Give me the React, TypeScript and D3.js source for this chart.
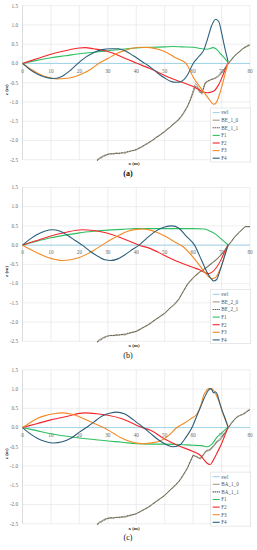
import * as d3 from 'd3';

// ---------- data ----------

// panel (a)
const aF1x = [0, 5, 10, 15, 20, 25, 30, 35, 40, 45, 50, 53, 56, 60, 63, 65, 67, 68, 70, 72.3];
const aF1z = [0, 0.08, 0.15, 0.2, 0.25, 0.29, 0.33, 0.37, 0.4, 0.42, 0.43, 0.44, 0.43, 0.42, 0.38, 0.37, 0.41, 0.38, 0.22, 0.03];
const aF2x = [0, 5, 10, 15, 20, 22, 25, 30, 35, 40, 45, 50, 55, 60, 63, 65, 67, 69, 70.5, 72.3];
const aF2z = [0, 0.12, 0.24, 0.33, 0.4, 0.41, 0.38, 0.31, 0.17, 0.01, -0.14, -0.31, -0.46, -0.6, -0.72, -0.76, -0.73, -0.55, -0.3, 0.03];
const aF3x = [0, 3, 6, 9, 12, 15, 18, 21, 24, 27, 30, 33, 36, 39, 42, 45, 48, 51, 54, 57.5, 60, 62, 64, 65.5, 66.5, 67.3, 68.2, 69.5, 70.8, 72.3];
const aF3z = [0, -0.15, -0.28, -0.36, -0.4, -0.39, -0.35, -0.27, -0.15, 0.01, 0.13, 0.25, 0.34, 0.4, 0.42, 0.41, 0.36, 0.27, 0.14, 0, -0.35, -0.57, -0.77, -0.92, -1.02, -1.06, -1.01, -0.75, -0.4, 0.03];
const aF4x = [0, 2.5, 5, 8, 11, 14, 17, 19.5, 22, 25, 28, 31, 33.7, 36, 39, 42, 44.3, 47, 50, 52, 54, 56, 58, 60, 62, 63.7, 65, 66.5, 67.9, 69, 70, 71, 72.3];
const aF4z = [0, -0.15, -0.27, -0.36, -0.39, -0.33, -0.17, 0, 0.15, 0.28, 0.36, 0.38, 0.38, 0.33, 0.2, 0.05, -0.06, -0.22, -0.38, -0.46, -0.49, -0.46, -0.3, 0, 0.18, 0.34, 0.62, 0.98, 1.15, 1.09, 0.8, 0.45, 0.05];
const aB0x = [26.2, 27, 28, 29, 30, 31, 32, 33, 34, 35, 36, 37, 38, 39, 40, 41, 42, 43, 44, 45, 46, 47, 48, 49, 50, 51, 52, 53, 54, 55, 56, 57, 58, 59, 60, 60.8, 61.5, 62.3, 63.1, 64.2, 65, 66, 67, 67.7, 69, 70, 71, 72.4, 73.5, 74.5, 75.5, 76.5, 77.5, 78.5, 79.5, 80];
const aB0z = [-2.52, -2.46, -2.42, -2.38, -2.36, -2.34, -2.35, -2.33, -2.34, -2.32, -2.33, -2.3, -2.28, -2.26, -2.24, -2.2, -2.17, -2.12, -2.08, -2.03, -1.98, -1.92, -1.88, -1.82, -1.77, -1.7, -1.65, -1.58, -1.52, -1.45, -1.37, -1.25, -1.12, -0.95, -0.76, -0.6, -0.62, -0.75, -0.76, -0.52, -0.47, -0.43, -0.4, -0.39, -0.33, -0.24, -0.15, 0, 0.1, 0.19, 0.26, 0.32, 0.39, 0.43, 0.48, 0.47];
const aB1x = [26.2, 30, 35, 40, 45, 50, 55, 58, 59, 60, 60.8, 61.5, 62.3, 63.1, 64.2, 65, 66, 67.7, 70, 72.4, 74.5, 76.5, 78.5, 80];
const aB1z = [-2.52, -2.36, -2.32, -2.24, -2.03, -1.77, -1.45, -1.12, -0.95, -0.7, -0.52, -0.58, -0.68, -0.8, -0.5, -0.46, -0.43, -0.38, -0.23, 0, 0.19, 0.32, 0.43, 0.47];

// panel (b)
const bF1x = [0, 5, 10, 15, 20, 25, 30, 35, 40, 45, 50, 55, 60, 64, 66, 68, 70, 72.3];
const bF1z = [0, 0.1, 0.19, 0.26, 0.32, 0.36, 0.39, 0.41, 0.43, 0.43, 0.43, 0.43, 0.43, 0.42, 0.36, 0.28, 0.15, 0.01];
const bF2x = [0, 5, 10, 15, 21, 25, 30, 35, 41, 45, 50, 55, 60, 62.3, 65.3, 68.2, 70, 71.2, 72.3];
const bF2z = [0, 0.12, 0.24, 0.33, 0.4, 0.38, 0.31, 0.18, 0, -0.09, -0.27, -0.44, -0.58, -0.64, -0.74, -0.58, -0.35, -0.15, 0.01];
const bF3x = [0, 3, 6, 9, 12, 14, 17, 20, 23, 26, 28, 31, 34, 37, 40, 42, 45, 48, 51, 54, 56.5, 59.6, 62, 64, 65.5, 66.6, 68, 69.5, 71, 72.3];
const bF3z = [0, -0.12, -0.23, -0.32, -0.38, -0.4, -0.38, -0.32, -0.22, -0.09, 0, 0.14, 0.26, 0.36, 0.41, 0.42, 0.39, 0.31, 0.2, 0.06, -0.04, -0.28, -0.5, -0.7, -0.82, -0.87, -0.83, -0.62, -0.3, 0.01];
const bF4x = [0, 2.5, 5, 8, 10.5, 13, 16, 18.5, 21, 24, 27, 29, 31, 33, 36, 38.5, 41, 44, 47, 50, 52.5, 55, 57.5, 60.5, 63, 65, 66.2, 67.2, 68.2, 69.5, 71, 72.3];
const bF4z = [0, 0.15, 0.27, 0.37, 0.4, 0.37, 0.25, 0.12, 0, -0.17, -0.31, -0.38, -0.4, -0.37, -0.25, -0.12, 0, 0.2, 0.37, 0.47, 0.5, 0.44, 0.24, 0, -0.4, -0.72, -0.86, -0.93, -0.9, -0.65, -0.3, 0.01];
const bB0x = [26.2, 27, 28, 29, 30, 31, 32, 33, 34, 35, 36, 37, 38, 39, 40, 41, 42, 43, 44, 45, 46, 47, 48, 49, 50, 51, 52, 53, 54, 55, 56, 57, 58, 59, 60, 61, 62.3, 63.5, 65, 66.5, 68.2, 69.5, 71, 72.4, 73.5, 74.5, 76, 77, 78.3, 79.2, 80];
const bB0z = [-2.52, -2.46, -2.42, -2.38, -2.36, -2.34, -2.35, -2.33, -2.34, -2.32, -2.33, -2.3, -2.28, -2.26, -2.24, -2.2, -2.16, -2.12, -2.08, -2.03, -1.97, -1.92, -1.87, -1.82, -1.77, -1.7, -1.63, -1.57, -1.5, -1.4, -1.27, -1.14, -1.02, -0.93, -0.85, -0.78, -0.7, -0.64, -0.56, -0.47, -0.37, -0.28, -0.15, 0, 0.1, 0.2, 0.32, 0.39, 0.48, 0.48, 0.48];
const bB1x = [26.2, 30, 35, 40, 45, 50, 55, 58, 60, 62.3, 65, 68.2, 71, 72.4, 74.5, 76, 78.3, 80];
const bB1z = [-2.52, -2.36, -2.32, -2.24, -2.03, -1.77, -1.4, -1.02, -0.85, -0.7, -0.57, -0.38, -0.15, 0, 0.2, 0.32, 0.48, 0.48];

// panel (c)
const cF1x = [0, 5, 10, 15, 20, 25, 30, 35, 40, 45, 50, 55, 60, 63, 64.9, 66.6, 68.4, 70.3, 72.3];
const cF1z = [0, -0.08, -0.16, -0.22, -0.27, -0.31, -0.35, -0.38, -0.42, -0.43, -0.43, -0.44, -0.46, -0.47, -0.5, -0.43, -0.25, -0.12, 0.01];
const cF2x = [0, 5, 10, 15, 22, 26, 30, 35, 42, 45, 50, 55, 60, 62.5, 64, 65.2, 66, 67, 68.4, 69.5, 70.7, 72.3];
const cF2z = [0, 0.1, 0.2, 0.28, 0.38, 0.36, 0.32, 0.23, 0, -0.07, -0.3, -0.48, -0.62, -0.72, -0.85, -0.94, -0.96, -0.86, -0.66, -0.5, -0.29, 0.01];
const cF3x = [0, 2.5, 5, 8, 11, 13.8, 17, 20, 23, 27.3, 28.5, 32, 35, 39, 42.6, 45, 48.4, 51, 54.3, 57, 59, 61.4, 62.8, 63.7, 64.7, 65.4, 66.6, 67.5, 68.4, 69.3, 70.1, 71.2, 72.3];
const cF3z = [0, 0.12, 0.23, 0.31, 0.36, 0.38, 0.35, 0.28, 0.18, 0.04, 0, -0.15, -0.28, -0.39, -0.42, -0.4, -0.35, -0.23, 0, 0.12, 0.22, 0.36, 0.6, 0.84, 0.96, 1.01, 1.01, 0.93, 0.8, 0.64, 0.45, 0.22, 0.01];
const cF4x = [0, 2.5, 5, 8, 11, 14, 17, 20, 22.5, 25, 28, 31, 33, 36, 39, 42.5, 45, 48, 51, 53.1, 55.5, 57.5, 59.6, 61, 62.6, 64, 65.2, 66, 66.6, 67.2, 67.8, 68.5, 69.5, 70.4, 71.3, 72.3];
const cF4z = [0, -0.15, -0.27, -0.36, -0.4, -0.37, -0.28, -0.12, 0, 0.14, 0.3, 0.38, 0.4, 0.35, 0.2, 0, -0.15, -0.33, -0.46, -0.5, -0.44, -0.25, 0, 0.25, 0.53, 0.78, 0.95, 1.01, 0.98, 0.9, 0.93, 0.86, 0.6, 0.4, 0.23, 0.01];
const cB0x = [26.2, 27, 28, 29, 30, 31, 32, 33, 34, 35, 36, 37, 38, 39, 40, 41, 42, 43, 44, 45, 46, 47, 48, 49, 50, 51, 52, 53, 54, 55, 56, 57, 58, 59, 60, 61, 62.5, 63.5, 64.5, 66, 67.2, 68.4, 69.5, 71, 72.4, 73.5, 74.8, 75.6, 76.6, 77.5, 78.5, 79.3, 80];
const cB0z = [-2.52, -2.46, -2.42, -2.38, -2.36, -2.34, -2.35, -2.33, -2.34, -2.32, -2.33, -2.3, -2.28, -2.26, -2.24, -2.2, -2.16, -2.12, -2.08, -2.03, -1.97, -1.92, -1.87, -1.82, -1.76, -1.69, -1.62, -1.55, -1.48, -1.4, -1.3, -1.18, -1.05, -0.88, -0.72, -0.76, -0.81, -0.72, -0.62, -0.58, -0.48, -0.37, -0.32, -0.16, 0, 0.12, 0.23, 0.29, 0.32, 0.34, 0.39, 0.44, 0.47];
const cB1x = [26.2, 30, 35, 40, 45, 50, 55, 58, 60, 61, 62.5, 64.5, 66, 68.4, 71, 72.4, 74.8, 76.6, 78.5, 80];
const cB1z = [-2.52, -2.36, -2.32, -2.24, -2.03, -1.76, -1.4, -1.05, -0.72, -0.74, -0.8, -0.6, -0.56, -0.36, -0.16, 0, 0.23, 0.32, 0.39, 0.47];

const xTicks = [0, 10, 20, 30, 40, 50, 60, 70, 80];
const zTicks = [1.5, 1.0, 0.5, 0.0, -0.5, -1.0, -1.5, -2.0, -2.5];
const seriesNames = ['swl', 'F1', 'F2', 'F3', 'F4'];
const panelLetters = ['(a)', '(b)', '(c)'];
const bedNames = [['BE_1_0', 'BE_1_1'], ['BE_2_0', 'BE_2_1'], ['BA_1_0', 'BA_1_1']];

// ---------- styling ----------
const colors: Record<string, string> = {
  swl: '#9fd4e8',
  bed0: '#a39d86',
  bed1: '#222222',
  F1: '#2fbf62',
  F2: '#f5262a',
  F3: '#f48a24',
  F4: '#2c5f7c',
};

const W = 257;
const H = 550;
const left = 22.5;
const right = 250;
const panelTops = [5.7, 187.4, 369.8];
const plotH = 154;
const font = '"Liberation Serif", "DejaVu Serif", serif';

type Pts = { x: number; z: number }[];
const zip = (xs: number[], zs: number[]): Pts => xs.map((x, i) => ({ x, z: zs[i] }));

const panels = [
  { F: [zip(aF1x, aF1z), zip(aF2x, aF2z), zip(aF3x, aF3z), zip(aF4x, aF4z)], B0: zip(aB0x, aB0z), B1: zip(aB1x, aB1z) },
  { F: [zip(bF1x, bF1z), zip(bF2x, bF2z), zip(bF3x, bF3z), zip(bF4x, bF4z)], B0: zip(bB0x, bB0z), B1: zip(bB1x, bB1z) },
  { F: [zip(cF1x, cF1z), zip(cF2x, cF2z), zip(cF3x, cF3z), zip(cF4x, cF4z)], B0: zip(cB0x, cB0z), B1: zip(cB1x, cB1z) },
];

function Panel({ idx }: { idx: number }) {
  const top = panelTops[idx];
  const p = panels[idx];
  const x = d3.scaleLinear().domain([0, 80]).range([left, right]);
  const y = d3.scaleLinear().domain([1.5, -2.5]).range([top, top + plotH]);
  const smooth = d3.line<{ x: number; z: number }>().x(d => x(d.x)).y(d => y(d.z)).curve(d3.curveMonotoneX);
  const rough = d3.line<{ x: number; z: number }>().x(d => x(d.x)).y(d => y(d.z));
  const fCols = [colors.F1, colors.F2, colors.F3, colors.F4];

  // legend box, lower right
  const lgX = 210.7;
  const lgY = top + 102.3;
  const lgW = 40;
  const lgH = 54;
  const step = 7.6;
  const entries = [
    { name: seriesNames[0], color: colors.swl, dash: '' },
    { name: bedNames[idx][0], color: colors.bed0, dash: '' },
    { name: bedNames[idx][1], color: colors.bed1, dash: '1,1' },
    { name: seriesNames[1], color: colors.F1, dash: '' },
    { name: seriesNames[2], color: colors.F2, dash: '' },
    { name: seriesNames[3], color: colors.F3, dash: '' },
    { name: seriesNames[4], color: colors.F4, dash: '' },
  ];

  return (
    <g>
      {/* grid */}
      {xTicks.map(t => (
        <line key={'gx' + t} x1={x(t)} x2={x(t)} y1={y(1.5)} y2={y(-2.5)} stroke="#e3e3e3" strokeWidth={0.6} />
      ))}
      {zTicks.map(t => (
        <line key={'gy' + t} x1={x(0)} x2={x(80)} y1={y(t)} y2={y(t)} stroke="#e3e3e3" strokeWidth={0.6} />
      ))}
      <line x1={x(0)} x2={x(0)} y1={y(1.5)} y2={y(-2.5)} stroke="#cfcfcf" strokeWidth={0.6} />
      {/* tick labels */}
      {zTicks.map(t => (
        <text key={'ty' + t} x={18} y={y(t)} dy="0.35em" textAnchor="end" fontSize={5.2} fill="#6b6b6b" fontFamily={font}>
          {t.toFixed(1)}
        </text>
      ))}
      {xTicks.map(t => (
        <text key={'tx' + t} x={x(t)} y={y(0) + 7.3} dy="0.35em" textAnchor="middle" fontSize={5.2} fill="#6b6b6b" fontFamily={font}>
          {t}
        </text>
      ))}
      {/* still water level */}
      <line x1={x(0)} x2={x(80)} y1={y(0)} y2={y(0)} stroke={colors.swl} strokeWidth={1} />
      {/* bed profiles */}
      <path d={rough(p.B0) ?? ''} fill="none" stroke={colors.bed0} strokeWidth={1.2} />
      <path d={rough(p.B1) ?? ''} fill="none" stroke={colors.bed1} strokeWidth={0.7} strokeDasharray="0.8,0.8" />
      {/* modes */}
      {p.F.map((s, i) => (
        <path key={'f' + i} d={smooth(s) ?? ''} fill="none" stroke={fCols[i]} strokeWidth={1.1} />
      ))}
      {/* axis titles */}
      <text x={134} y={top + 158} dy="0.35em" textAnchor="middle" fontSize={5} fill="#333" fontFamily={font} fontWeight="bold">
        x (m)
      </text>
      <text transform={`translate(6,${top + 84}) rotate(-90)`} dy="0.35em" textAnchor="middle" fontSize={5} fill="#333" fontFamily={font} fontWeight="bold">
        z (m)
      </text>
      {/* legend */}
      <rect x={lgX} y={lgY} width={lgW} height={lgH} fill="#fff" stroke="#d9d9d9" strokeWidth={0.6} />
      {entries.map((e, i) => (
        <g key={'lg' + i}>
          <line x1={lgX + 2} x2={lgX + 9} y1={lgY + 4.6 + i * step} y2={lgY + 4.6 + i * step} stroke={e.color} strokeWidth={1.1} strokeDasharray={e.dash} />
          <text x={lgX + 10.5} y={lgY + 4.6 + i * step} dy="0.35em" fontSize={5.2} fill="#555" fontFamily={font}>
            {e.name}
          </text>
        </g>
      ))}
      {/* panel letter */}
      <text x={128} y={top + 167.5} dy="0.35em" textAnchor="middle" fontSize={8} fill="#111" fontFamily={font} fontWeight={idx === 0 ? 'bold' : 'normal'}>
        {panelLetters[idx]}
      </text>
    </g>
  );
}

export default function App() {
  return (
    <svg width={W} height={H} style={{ position: 'absolute', left: 0, top: 0, background: '#fff' }}>
      <Panel idx={0} />
      <Panel idx={1} />
      <Panel idx={2} />
    </svg>
  );
}
